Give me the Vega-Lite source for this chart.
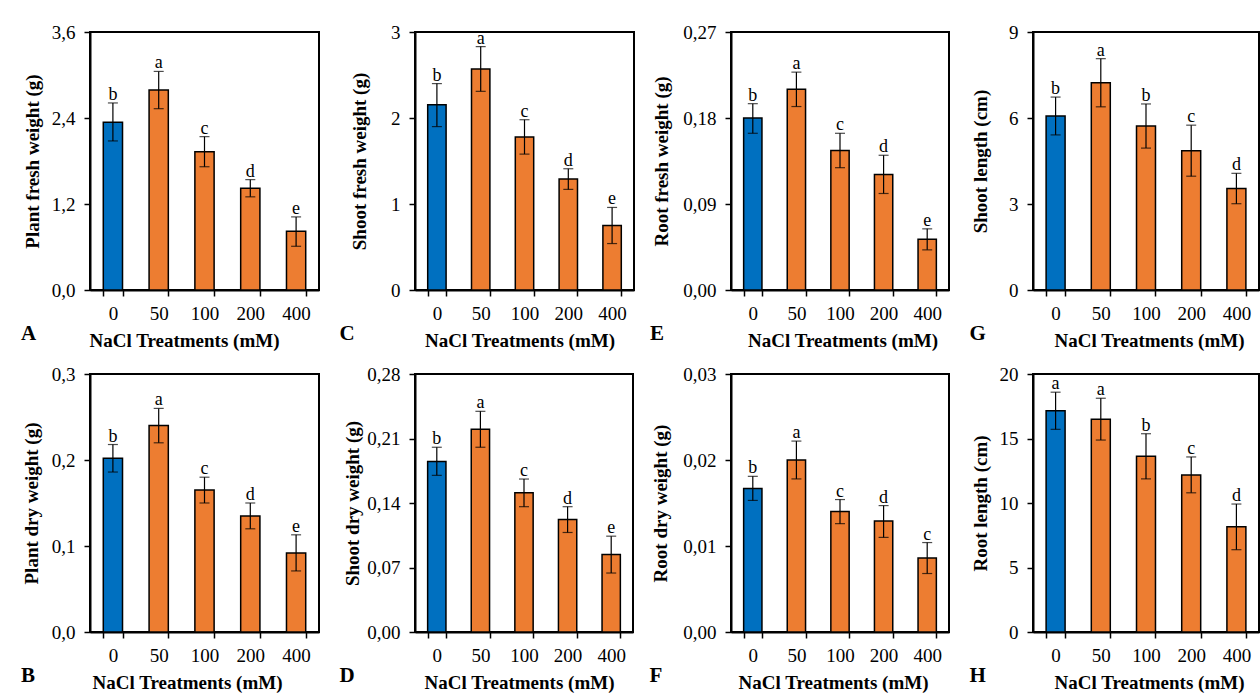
{
"$schema": "https://vega.github.io/schema/vega-lite/v6.json",
"background": "white",
"autosize": {"type": "pad"},
"padding": {"left": 20, "top": 22, "right": 0, "bottom": 0},
"config": {
  "font": "Liberation Serif",
  "view": {"stroke": "black", "strokeWidth": 2},
  "axis": {"domainColor": "black", "domainWidth": 2, "tickColor": "black", "tickWidth": 1.5, "tickSize": 6, "labelColor": "black", "labelFontSize": 19, "labelFont": "Liberation Serif", "titleFont": "Liberation Serif", "titleFontSize": 19, "titleFontWeight": "bold", "titleColor": "black", "grid": false},
  "axisX": {"labelAngle": 0, "tickBand": "extent", "labelPadding": 8, "titlePadding": 8},
  "axisY": {"labelPadding": 9},
  "title": {"font": "Liberation Serif", "fontSize": 21, "fontWeight": "bold", "color": "black"},
  "text": {"font": "Liberation Serif"}
},
"datasets": {"d": [
  {"p": "A", "n": "0", "m": 2.34, "lo": 2.08, "hi": 2.61, "l": "b"},
  {"p": "A", "n": "50", "m": 2.79, "lo": 2.53, "hi": 3.05, "l": "a"},
  {"p": "A", "n": "100", "m": 1.93, "lo": 1.72, "hi": 2.14, "l": "c"},
  {"p": "A", "n": "200", "m": 1.42, "lo": 1.30, "hi": 1.54, "l": "d"},
  {"p": "A", "n": "400", "m": 0.82, "lo": 0.61, "hi": 1.02, "l": "e"},
  {"p": "B", "n": "0", "m": 0.202, "lo": 0.186, "hi": 0.218, "l": "b"},
  {"p": "B", "n": "50", "m": 0.240, "lo": 0.220, "hi": 0.260, "l": "a"},
  {"p": "B", "n": "100", "m": 0.165, "lo": 0.150, "hi": 0.180, "l": "c"},
  {"p": "B", "n": "200", "m": 0.135, "lo": 0.120, "hi": 0.150, "l": "d"},
  {"p": "B", "n": "400", "m": 0.092, "lo": 0.071, "hi": 0.113, "l": "e"},
  {"p": "C", "n": "0", "m": 2.155, "lo": 1.90, "hi": 2.40, "l": "b"},
  {"p": "C", "n": "50", "m": 2.57, "lo": 2.31, "hi": 2.83, "l": "a"},
  {"p": "C", "n": "100", "m": 1.78, "lo": 1.58, "hi": 1.98, "l": "c"},
  {"p": "C", "n": "200", "m": 1.29, "lo": 1.17, "hi": 1.41, "l": "d"},
  {"p": "C", "n": "400", "m": 0.75, "lo": 0.54, "hi": 0.96, "l": "e"},
  {"p": "D", "n": "0", "m": 0.185, "lo": 0.170, "hi": 0.2005, "l": "b"},
  {"p": "D", "n": "50", "m": 0.220, "lo": 0.2005, "hi": 0.2395, "l": "a"},
  {"p": "D", "n": "100", "m": 0.151, "lo": 0.136, "hi": 0.166, "l": "c"},
  {"p": "D", "n": "200", "m": 0.122, "lo": 0.108, "hi": 0.136, "l": "d"},
  {"p": "D", "n": "400", "m": 0.084, "lo": 0.064, "hi": 0.104, "l": "e"},
  {"p": "E", "n": "0", "m": 0.180, "lo": 0.164, "hi": 0.195, "l": "b"},
  {"p": "E", "n": "50", "m": 0.210, "lo": 0.192, "hi": 0.228, "l": "a"},
  {"p": "E", "n": "100", "m": 0.146, "lo": 0.128, "hi": 0.164, "l": "c"},
  {"p": "E", "n": "200", "m": 0.121, "lo": 0.101, "hi": 0.141, "l": "d"},
  {"p": "E", "n": "400", "m": 0.053, "lo": 0.042, "hi": 0.064, "l": "e"},
  {"p": "F", "n": "0", "m": 0.0167, "lo": 0.0153, "hi": 0.0181, "l": "b"},
  {"p": "F", "n": "50", "m": 0.0200, "lo": 0.0178, "hi": 0.0222, "l": "a"},
  {"p": "F", "n": "100", "m": 0.0140, "lo": 0.0126, "hi": 0.0154, "l": "c"},
  {"p": "F", "n": "200", "m": 0.0129, "lo": 0.0110, "hi": 0.0147, "l": "d"},
  {"p": "F", "n": "400", "m": 0.0086, "lo": 0.0068, "hi": 0.0104, "l": "c"},
  {"p": "G", "n": "0", "m": 6.07, "lo": 5.41, "hi": 6.73, "l": "b"},
  {"p": "G", "n": "50", "m": 7.23, "lo": 6.39, "hi": 8.07, "l": "a"},
  {"p": "G", "n": "100", "m": 5.72, "lo": 4.95, "hi": 6.49, "l": "b"},
  {"p": "G", "n": "200", "m": 4.86, "lo": 3.97, "hi": 5.75, "l": "c"},
  {"p": "G", "n": "400", "m": 3.54, "lo": 3.01, "hi": 4.07, "l": "d"},
  {"p": "H", "n": "0", "m": 17.15, "lo": 15.71, "hi": 18.59, "l": "a"},
  {"p": "H", "n": "50", "m": 16.5, "lo": 14.88, "hi": 18.12, "l": "a"},
  {"p": "H", "n": "100", "m": 13.62, "lo": 11.87, "hi": 15.37, "l": "b"},
  {"p": "H", "n": "200", "m": 12.18, "lo": 10.79, "hi": 13.57, "l": "c"},
  {"p": "H", "n": "400", "m": 8.15, "lo": 6.38, "hi": 9.92, "l": "d"}
]},
"columns": 7,
"align": "each",
"bounds": "flush",
"spacing": {"row": 84, "column": 0},
"concat": [
{
 "width": 229, "height": 258, "data": {"name": "d"},
 "transform": [{"filter": "datum.p === 'A'"}],
 "title": {"text": "A", "orient": "bottom", "anchor": "start", "frame": "group", "dx": -69, "offset": -27},
 "encoding": {"x": {"field": "n", "type": "nominal", "sort": ["0","50","100","200","400"], "scale": {"paddingInner": 0.58, "paddingOuter": 0.29}, "axis": {"title": "NaCl Treatments (mM)", "titleX": 94}}},
 "layer": [
  {"mark": {"type": "bar", "stroke": "black", "strokeWidth": 1.5}, "encoding": {"y": {"field": "m", "type": "quantitative", "title": "Plant fresh weight (g)", "scale": {"domain": [0, 3.6], "nice": false}, "axis": {"values": [0, 1.2, 2.4, 3.6], "labelExpr": "replace(format(datum.value, '.1f'), '.', ',')", "titleX": -47.8}}, "color": {"field": "n", "type": "nominal", "scale": {"domain": ["0","50","100","200","400"], "range": ["#0070C0","#ED7D31","#ED7D31","#ED7D31","#ED7D31"]}, "legend": null}}},
  {"mark": {"type": "rule", "color": "black", "strokeWidth": 1.2}, "encoding": {"y": {"field": "lo", "type": "quantitative", "title": "Plant fresh weight (g)"}, "y2": {"field": "hi"}}},
  {"mark": {"type": "tick", "color": "black", "size": 10, "thickness": 1.2, "orient": "horizontal"}, "encoding": {"y": {"field": "lo", "type": "quantitative", "title": "Plant fresh weight (g)"}}},
  {"mark": {"type": "tick", "color": "black", "size": 10, "thickness": 1.2, "orient": "horizontal"}, "encoding": {"y": {"field": "hi", "type": "quantitative", "title": "Plant fresh weight (g)"}}},
  {"mark": {"type": "text", "baseline": "alphabetic", "dy": -3, "fontSize": 18, "color": "black"}, "encoding": {"y": {"field": "hi", "type": "quantitative", "title": "Plant fresh weight (g)"}, "text": {"field": "l"}}}
 ]
},
{"width": 96, "height": 258, "data": {"values": []}, "mark": "point", "view": {"stroke": null}},
{
 "width": 219, "height": 258, "data": {"name": "d"},
 "transform": [{"filter": "datum.p === 'C'"}],
 "title": {"text": "C", "orient": "bottom", "anchor": "start", "frame": "group", "dx": -75.5, "offset": -27},
 "encoding": {"x": {"field": "n", "type": "nominal", "sort": ["0","50","100","200","400"], "scale": {"paddingInner": 0.58, "paddingOuter": 0.29}, "axis": {"title": "NaCl Treatments (mM)", "titleX": 104.5}}},
 "layer": [
  {"mark": {"type": "bar", "stroke": "black", "strokeWidth": 1.5}, "encoding": {"y": {"field": "m", "type": "quantitative", "title": "Shoot fresh weight (g)", "scale": {"domain": [0, 3], "nice": false}, "axis": {"values": [0, 1, 2, 3], "format": "d", "titleX": -45.4}}, "color": {"field": "n", "type": "nominal", "scale": {"domain": ["0","50","100","200","400"], "range": ["#0070C0","#ED7D31","#ED7D31","#ED7D31","#ED7D31"]}, "legend": null}}},
  {"mark": {"type": "rule", "color": "black", "strokeWidth": 1.2}, "encoding": {"y": {"field": "lo", "type": "quantitative", "title": "Shoot fresh weight (g)"}, "y2": {"field": "hi"}}},
  {"mark": {"type": "tick", "color": "black", "size": 10, "thickness": 1.2, "orient": "horizontal"}, "encoding": {"y": {"field": "lo", "type": "quantitative", "title": "Shoot fresh weight (g)"}}},
  {"mark": {"type": "tick", "color": "black", "size": 10, "thickness": 1.2, "orient": "horizontal"}, "encoding": {"y": {"field": "hi", "type": "quantitative", "title": "Shoot fresh weight (g)"}}},
  {"mark": {"type": "text", "baseline": "alphabetic", "dy": -3, "fontSize": 18, "color": "black"}, "encoding": {"y": {"field": "hi", "type": "quantitative", "title": "Shoot fresh weight (g)"}, "text": {"field": "l"}}}
 ]
},
{"width": 97, "height": 258, "data": {"values": []}, "mark": "point", "view": {"stroke": null}},
{
 "width": 218, "height": 258, "data": {"name": "d"},
 "transform": [{"filter": "datum.p === 'E'"}],
 "title": {"text": "E", "orient": "bottom", "anchor": "start", "frame": "group", "dx": -81, "offset": -27},
 "encoding": {"x": {"field": "n", "type": "nominal", "sort": ["0","50","100","200","400"], "scale": {"paddingInner": 0.58, "paddingOuter": 0.29}, "axis": {"title": "NaCl Treatments (mM)", "titleX": 111.5}}},
 "layer": [
  {"mark": {"type": "bar", "stroke": "black", "strokeWidth": 1.5}, "encoding": {"y": {"field": "m", "type": "quantitative", "title": "Root fresh weight (g)", "scale": {"domain": [0, 0.27], "nice": false}, "axis": {"values": [0, 0.09, 0.18, 0.27], "labelExpr": "replace(format(datum.value, '.2f'), '.', ',')", "titleX": -59.7}}, "color": {"field": "n", "type": "nominal", "scale": {"domain": ["0","50","100","200","400"], "range": ["#0070C0","#ED7D31","#ED7D31","#ED7D31","#ED7D31"]}, "legend": null}}},
  {"mark": {"type": "rule", "color": "black", "strokeWidth": 1.2}, "encoding": {"y": {"field": "lo", "type": "quantitative", "title": "Root fresh weight (g)"}, "y2": {"field": "hi"}}},
  {"mark": {"type": "tick", "color": "black", "size": 10, "thickness": 1.2, "orient": "horizontal"}, "encoding": {"y": {"field": "lo", "type": "quantitative", "title": "Root fresh weight (g)"}}},
  {"mark": {"type": "tick", "color": "black", "size": 10, "thickness": 1.2, "orient": "horizontal"}, "encoding": {"y": {"field": "hi", "type": "quantitative", "title": "Root fresh weight (g)"}}},
  {"mark": {"type": "text", "baseline": "alphabetic", "dy": -3, "fontSize": 18, "color": "black"}, "encoding": {"y": {"field": "hi", "type": "quantitative", "title": "Root fresh weight (g)"}, "text": {"field": "l"}}}
 ]
},
{"width": 84, "height": 258, "data": {"values": []}, "mark": "point", "view": {"stroke": null}},
{
 "width": 226, "height": 258, "data": {"name": "d"},
 "transform": [{"filter": "datum.p === 'G'"}],
 "title": {"text": "G", "orient": "bottom", "anchor": "start", "frame": "group", "dx": -63.5, "offset": -27},
 "encoding": {"x": {"field": "n", "type": "nominal", "sort": ["0","50","100","200","400"], "scale": {"paddingInner": 0.58, "paddingOuter": 0.29}, "axis": {"title": "NaCl Treatments (mM)", "titleX": 116}}},
 "layer": [
  {"mark": {"type": "bar", "stroke": "black", "strokeWidth": 1.5}, "encoding": {"y": {"field": "m", "type": "quantitative", "title": "Shoot length (cm)", "scale": {"domain": [0, 9], "nice": false}, "axis": {"values": [0, 3, 6, 9], "format": "d", "titleX": -42.5}}, "color": {"field": "n", "type": "nominal", "scale": {"domain": ["0","50","100","200","400"], "range": ["#0070C0","#ED7D31","#ED7D31","#ED7D31","#ED7D31"]}, "legend": null}}},
  {"mark": {"type": "rule", "color": "black", "strokeWidth": 1.2}, "encoding": {"y": {"field": "lo", "type": "quantitative", "title": "Shoot length (cm)"}, "y2": {"field": "hi"}}},
  {"mark": {"type": "tick", "color": "black", "size": 10, "thickness": 1.2, "orient": "horizontal"}, "encoding": {"y": {"field": "lo", "type": "quantitative", "title": "Shoot length (cm)"}}},
  {"mark": {"type": "tick", "color": "black", "size": 10, "thickness": 1.2, "orient": "horizontal"}, "encoding": {"y": {"field": "hi", "type": "quantitative", "title": "Shoot length (cm)"}}},
  {"mark": {"type": "text", "baseline": "alphabetic", "dy": -3, "fontSize": 18, "color": "black"}, "encoding": {"y": {"field": "hi", "type": "quantitative", "title": "Shoot length (cm)"}, "text": {"field": "l"}}}
 ]
},
{
 "width": 229, "height": 258, "data": {"name": "d"},
 "transform": [{"filter": "datum.p === 'B'"}],
 "title": {"text": "B", "orient": "bottom", "anchor": "start", "frame": "group", "dx": -69, "offset": -27},
 "encoding": {"x": {"field": "n", "type": "nominal", "sort": ["0","50","100","200","400"], "scale": {"paddingInner": 0.58, "paddingOuter": 0.29}, "axis": {"title": "NaCl Treatments (mM)", "titleX": 97}}},
 "layer": [
  {"mark": {"type": "bar", "stroke": "black", "strokeWidth": 1.5}, "encoding": {"y": {"field": "m", "type": "quantitative", "title": "Plant dry weight (g)", "scale": {"domain": [0, 0.3], "nice": false}, "axis": {"values": [0, 0.1, 0.2, 0.3], "labelExpr": "replace(format(datum.value, '.1f'), '.', ',')", "titleX": -48.7}}, "color": {"field": "n", "type": "nominal", "scale": {"domain": ["0","50","100","200","400"], "range": ["#0070C0","#ED7D31","#ED7D31","#ED7D31","#ED7D31"]}, "legend": null}}},
  {"mark": {"type": "rule", "color": "black", "strokeWidth": 1.2}, "encoding": {"y": {"field": "lo", "type": "quantitative", "title": "Plant dry weight (g)"}, "y2": {"field": "hi"}}},
  {"mark": {"type": "tick", "color": "black", "size": 10, "thickness": 1.2, "orient": "horizontal"}, "encoding": {"y": {"field": "lo", "type": "quantitative", "title": "Plant dry weight (g)"}}},
  {"mark": {"type": "tick", "color": "black", "size": 10, "thickness": 1.2, "orient": "horizontal"}, "encoding": {"y": {"field": "hi", "type": "quantitative", "title": "Plant dry weight (g)"}}},
  {"mark": {"type": "text", "baseline": "alphabetic", "dy": -3, "fontSize": 18, "color": "black"}, "encoding": {"y": {"field": "hi", "type": "quantitative", "title": "Plant dry weight (g)"}, "text": {"field": "l"}}}
 ]
},
{"width": 96, "height": 258, "data": {"values": []}, "mark": "point", "view": {"stroke": null}},
{
 "width": 218, "height": 258, "data": {"name": "d"},
 "transform": [{"filter": "datum.p === 'D'"}],
 "title": {"text": "D", "orient": "bottom", "anchor": "start", "frame": "group", "dx": -75.5, "offset": -27},
 "encoding": {"x": {"field": "n", "type": "nominal", "sort": ["0","50","100","200","400"], "scale": {"paddingInner": 0.58, "paddingOuter": 0.29}, "axis": {"title": "NaCl Treatments (mM)", "titleX": 104}}},
 "layer": [
  {"mark": {"type": "bar", "stroke": "black", "strokeWidth": 1.5}, "encoding": {"y": {"field": "m", "type": "quantitative", "title": "Shoot dry weight (g)", "scale": {"domain": [0, 0.28], "nice": false}, "axis": {"values": [0, 0.07, 0.14, 0.21, 0.28], "labelExpr": "replace(format(datum.value, '.2f'), '.', ',')", "titleX": -52.9}}, "color": {"field": "n", "type": "nominal", "scale": {"domain": ["0","50","100","200","400"], "range": ["#0070C0","#ED7D31","#ED7D31","#ED7D31","#ED7D31"]}, "legend": null}}},
  {"mark": {"type": "rule", "color": "black", "strokeWidth": 1.2}, "encoding": {"y": {"field": "lo", "type": "quantitative", "title": "Shoot dry weight (g)"}, "y2": {"field": "hi"}}},
  {"mark": {"type": "tick", "color": "black", "size": 10, "thickness": 1.2, "orient": "horizontal"}, "encoding": {"y": {"field": "lo", "type": "quantitative", "title": "Shoot dry weight (g)"}}},
  {"mark": {"type": "tick", "color": "black", "size": 10, "thickness": 1.2, "orient": "horizontal"}, "encoding": {"y": {"field": "hi", "type": "quantitative", "title": "Shoot dry weight (g)"}}},
  {"mark": {"type": "text", "baseline": "alphabetic", "dy": -3, "fontSize": 18, "color": "black"}, "encoding": {"y": {"field": "hi", "type": "quantitative", "title": "Shoot dry weight (g)"}, "text": {"field": "l"}}}
 ]
},
{"width": 97, "height": 258, "data": {"values": []}, "mark": "point", "view": {"stroke": null}},
{
 "width": 218, "height": 258, "data": {"name": "d"},
 "transform": [{"filter": "datum.p === 'F'"}],
 "title": {"text": "F", "orient": "bottom", "anchor": "start", "frame": "group", "dx": -81.5, "offset": -27},
 "encoding": {"x": {"field": "n", "type": "nominal", "sort": ["0","50","100","200","400"], "scale": {"paddingInner": 0.58, "paddingOuter": 0.29}, "axis": {"title": "NaCl Treatments (mM)", "titleX": 102}}},
 "layer": [
  {"mark": {"type": "bar", "stroke": "black", "strokeWidth": 1.5}, "encoding": {"y": {"field": "m", "type": "quantitative", "title": "Root dry weight (g)", "scale": {"domain": [0, 0.03], "nice": false}, "axis": {"values": [0, 0.01, 0.02, 0.03], "labelExpr": "replace(format(datum.value, '.2f'), '.', ',')", "titleX": -60.7}}, "color": {"field": "n", "type": "nominal", "scale": {"domain": ["0","50","100","200","400"], "range": ["#0070C0","#ED7D31","#ED7D31","#ED7D31","#ED7D31"]}, "legend": null}}},
  {"mark": {"type": "rule", "color": "black", "strokeWidth": 1.2}, "encoding": {"y": {"field": "lo", "type": "quantitative", "title": "Root dry weight (g)"}, "y2": {"field": "hi"}}},
  {"mark": {"type": "tick", "color": "black", "size": 10, "thickness": 1.2, "orient": "horizontal"}, "encoding": {"y": {"field": "lo", "type": "quantitative", "title": "Root dry weight (g)"}}},
  {"mark": {"type": "tick", "color": "black", "size": 10, "thickness": 1.2, "orient": "horizontal"}, "encoding": {"y": {"field": "hi", "type": "quantitative", "title": "Root dry weight (g)"}}},
  {"mark": {"type": "text", "baseline": "alphabetic", "dy": -3, "fontSize": 18, "color": "black"}, "encoding": {"y": {"field": "hi", "type": "quantitative", "title": "Root dry weight (g)"}, "text": {"field": "l"}}}
 ]
},
{"width": 84, "height": 258, "data": {"values": []}, "mark": "point", "view": {"stroke": null}},
{
 "width": 226, "height": 258, "data": {"name": "d"},
 "transform": [{"filter": "datum.p === 'H'"}],
 "title": {"text": "H", "orient": "bottom", "anchor": "start", "frame": "group", "dx": -63.5, "offset": -27},
 "encoding": {"x": {"field": "n", "type": "nominal", "sort": ["0","50","100","200","400"], "scale": {"paddingInner": 0.58, "paddingOuter": 0.29}, "axis": {"title": "NaCl Treatments (mM)", "titleX": 116}}},
 "layer": [
  {"mark": {"type": "bar", "stroke": "black", "strokeWidth": 1.5}, "encoding": {"y": {"field": "m", "type": "quantitative", "title": "Root length (cm)", "scale": {"domain": [0, 20], "nice": false}, "axis": {"values": [0, 5, 10, 15, 20], "format": "d", "titleX": -42.5}}, "color": {"field": "n", "type": "nominal", "scale": {"domain": ["0","50","100","200","400"], "range": ["#0070C0","#ED7D31","#ED7D31","#ED7D31","#ED7D31"]}, "legend": null}}},
  {"mark": {"type": "rule", "color": "black", "strokeWidth": 1.2}, "encoding": {"y": {"field": "lo", "type": "quantitative", "title": "Root length (cm)"}, "y2": {"field": "hi"}}},
  {"mark": {"type": "tick", "color": "black", "size": 10, "thickness": 1.2, "orient": "horizontal"}, "encoding": {"y": {"field": "lo", "type": "quantitative", "title": "Root length (cm)"}}},
  {"mark": {"type": "tick", "color": "black", "size": 10, "thickness": 1.2, "orient": "horizontal"}, "encoding": {"y": {"field": "hi", "type": "quantitative", "title": "Root length (cm)"}}},
  {"mark": {"type": "text", "baseline": "alphabetic", "dy": -3, "fontSize": 18, "color": "black"}, "encoding": {"y": {"field": "hi", "type": "quantitative", "title": "Root length (cm)"}, "text": {"field": "l"}}}
 ]
}
]
}
